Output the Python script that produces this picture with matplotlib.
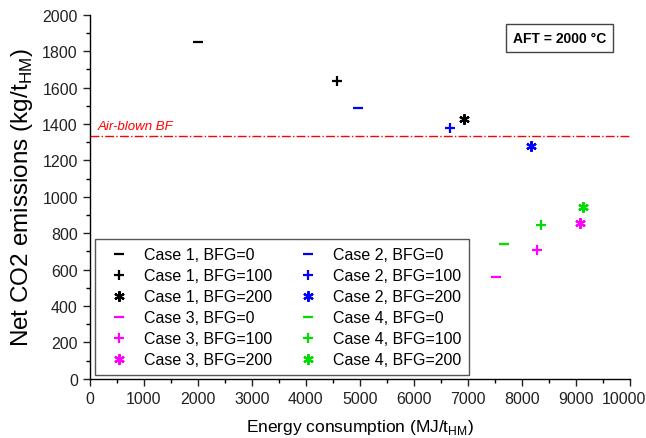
import matplotlib
matplotlib.use("Agg")
import matplotlib.pyplot as plt
from matplotlib.ticker import MultipleLocator, FixedLocator
from matplotlib.transforms import ScaledTranslation

plt.rcParams['font.family'] = ['Liberation Sans', 'DejaVu Sans']

# Data: energy consumption (MJ/tHM) and net CO2 emissions (kg/tHM)
labels = [
    "Case 1, BFG=0", "Case 1, BFG=100", "Case 1, BFG=200",
    "Case 2, BFG=0", "Case 2, BFG=100", "Case 2, BFG=200",
    "Case 3, BFG=0", "Case 3, BFG=100", "Case 3, BFG=200",
    "Case 4, BFG=0", "Case 4, BFG=100", "Case 4, BFG=200",
]
case1_x = [2000, 4580, 6930]
case1_y = [1850, 1634, 1427]
case2_x = [4960, 6660, 8170]
case2_y = [1487, 1377, 1277]
case3_x = [7520, 8270, 9070]
case3_y = [560, 707, 858]
case4_x = [7670, 8350, 9130]
case4_y = [742, 845, 946]
air_blown_bf = 1335
x_ticks = [0, 1000, 2000, 3000, 4000, 5000, 6000, 7000, 8000, 9000, 10000]
y_ticks = [0, 200, 400, 600, 800, 1000, 1200, 1400, 1600, 1800, 2000]

case_colors = ['#000000', '#0000ff', '#ff00ff', '#00dd00']
bfg_markers = ['_', '+', (6, 2, 0)]
bfg_sizes = [7, 6.5, 7.5]

fig = plt.figure(figsize=(6.46, 4.39), dpi=100)
ax = fig.add_axes([0.1387, 0.135, 0.8366, 0.8292])

handles = {}
cases = [(case1_x, case1_y), (case2_x, case2_y), (case3_x, case3_y), (case4_x, case4_y)]
for ci, (xs, ys) in enumerate(cases):
    for bi in range(3):
        h, = ax.plot([xs[bi]], [ys[bi]], linestyle='none', marker=bfg_markers[bi],
                     markersize=bfg_sizes[bi], markeredgewidth=1.6,
                     color=case_colors[ci], label=labels[ci * 3 + bi])
        handles[labels[ci * 3 + bi]] = h

ax.axhline(air_blown_bf, color='#ff0000', linestyle='-.', linewidth=1.0)
ax.text(150, air_blown_bf + 18, "Air-blown BF", color='#ff0000', fontstyle='italic',
        fontsize=9.5, ha='left', va='bottom')

ax.set_xlim(0, 10000)
ax.set_ylim(0, 2000)
ax.xaxis.set_major_locator(FixedLocator(x_ticks))
ax.xaxis.set_minor_locator(MultipleLocator(500))
ax.yaxis.set_major_locator(FixedLocator(y_ticks))
ax.yaxis.set_minor_locator(MultipleLocator(100))
ax.tick_params(which='major', direction='out', length=5, width=1, labelsize=11.5, colors='#222222')
ax.tick_params(which='minor', direction='out', length=3, width=1)
for s in ['top', 'right']:
    ax.spines[s].set_visible(False)
for s in ['left', 'bottom']:
    ax.spines[s].set_linewidth(1)

ax.set_xlabel("Energy consumption (MJ/t$_{\\mathregular{HM}}$)", fontsize=12.5, labelpad=8)
ax.set_ylabel("Net CO2 emissions (kg/t$_{\\mathregular{HM}}$)", fontsize=17.5, labelpad=5)

fig.canvas.draw()
for t in ax.xaxis.get_major_ticks():
    if abs(t.get_loc() - 10000) < 1:
        t.label1.set_transform(t.label1.get_transform() +
                               ScaledTranslation(-6 / 100, 0, fig.dpi_scale_trans))

order = [labels[i] for i in [0, 1, 2, 6, 7, 8, 3, 4, 5, 9, 10, 11]]
leg = ax.legend([handles[l] for l in order], order, ncol=2, loc='lower left',
                bbox_to_anchor=(0.01, 0.009), borderaxespad=0, fancybox=False,
                edgecolor='#555555', framealpha=1, fontsize=11.5,
                handlelength=2.0, handletextpad=0.55, columnspacing=1.25,
                labelspacing=0.38, borderpad=0.5)
leg.get_frame().set_linewidth(1)

ax.text(0.870, 0.937, "AFT = 2000 \u00b0C", transform=ax.transAxes, fontsize=10,
        fontweight='bold', ha='center', va='center',
        bbox=dict(boxstyle='square,pad=0.5', facecolor='white', edgecolor='#444444', linewidth=1))

fig.savefig("out.png", dpi=100)
